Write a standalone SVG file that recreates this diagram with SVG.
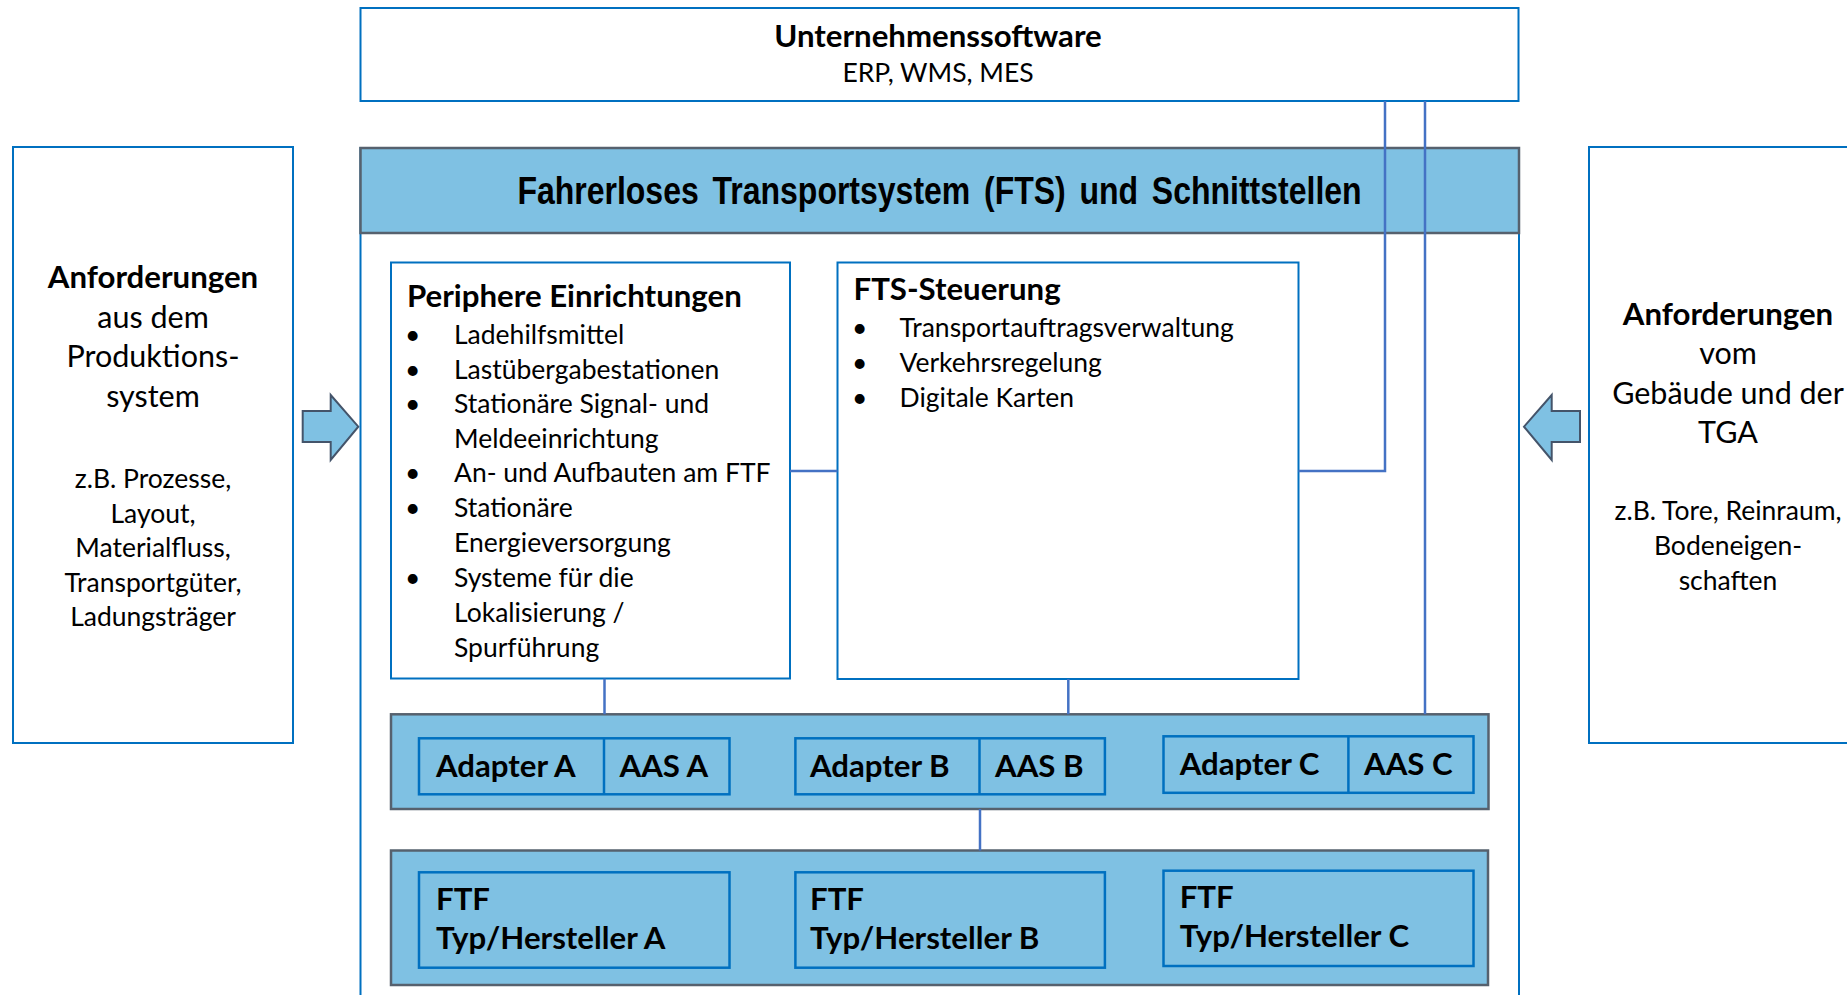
<svg xmlns="http://www.w3.org/2000/svg" width="1847" height="995" viewBox="0 0 1847 995">
<style>
.box{fill:#fff;stroke:#0070C0;stroke-width:2}
.band{fill:#7FC1E3;stroke:#56616E;stroke-width:2.5}
.inner{fill:#7FC1E3;stroke:#0070C0;stroke-width:2.5}
.conn{fill:none;stroke:#4472C4;stroke-width:2.5}
.arrow{fill:#7FC1E3;stroke:#44546A;stroke-width:2;stroke-linejoin:miter}
.t{font-family:Lato,"Liberation Sans",sans-serif;fill:#000}
.lg{font-size:30.5px}
.b{font-weight:700;font-size:31.2px}
.md{font-size:26.5px}
.c{text-anchor:middle}
.h{font-family:"Liberation Sans",Arial,sans-serif;font-weight:700;font-size:39.5px;fill:#000}
</style>
<rect width="1847" height="995" fill="#fff"/>

<g id="unternehmenssoftware">
<rect class="box" x="360.5" y="8" width="1158" height="93"/>
<text class="t b c" x="938" y="46.5">Unternehmenssoftware</text>
<text class="t md c" x="938" y="82">ERP, WMS, MES</text>
</g>

<g id="anforderungen-produktion">
<rect class="box" x="13" y="147" width="280" height="596"/>
<text class="t b c" x="153" y="288">Anforderungen</text>
<text class="t lg c" x="153" y="327.5">aus dem</text>
<text class="t lg c" x="153" y="367">Produktions-</text>
<text class="t lg c" x="153" y="406.5">system</text>
<text class="t md c" x="153" y="488">z.B. Prozesse,</text>
<text class="t md c" x="153" y="522.5">Layout,</text>
<text class="t md c" x="153" y="557">Materialfluss,</text>
<text class="t md c" x="153" y="591.5">Transportgüter,</text>
<text class="t md c" x="153" y="626">Ladungsträger</text>
</g>

<g id="anforderungen-gebaeude">
<rect class="box" x="1589" y="147" width="300" height="596"/>
<text class="t b c" x="1728" y="325">Anforderungen</text>
<text class="t lg c" x="1728" y="364">vom</text>
<text class="t lg c" x="1728" y="403.5">Gebäude und der</text>
<text class="t lg c" x="1728" y="443">TGA</text>
<text class="t md c" x="1728" y="520">z.B. Tore, Reinraum,</text>
<text class="t md c" x="1728" y="555">Bodeneigen-</text>
<text class="t md c" x="1728" y="590">schaften</text>
</g>

<g id="arrow-left">
<polygon class="arrow" points="302.7,411 330.7,411 330.7,395 358.3,426.7 330.7,460 330.7,442 302.7,442"/>
</g>
<g id="arrow-right">
<polygon class="arrow" points="1580,411 1551.7,411 1551.7,395 1524,426.7 1551.7,460 1551.7,442 1580,442"/>
</g>

<g id="fts">
<rect class="box" x="360.5" y="148" width="1158.5" height="900"/>
<rect class="band" x="360.5" y="148" width="1158.5" height="85"/>
<text class="h" transform="translate(939.5,204) scale(0.81,1)" text-anchor="middle" word-spacing="6">Fahrerloses Transportsystem (FTS) und Schnittstellen</text>
</g>

<g id="periphere">
<rect class="box" x="391" y="262.5" width="399" height="416"/>
<text class="t b" x="407" y="307">Periphere Einrichtungen</text>
<g class="t md">
<text x="405" y="344">•</text><text x="454" y="344">Ladehilfsmittel</text>
<text x="405" y="378.5">•</text><text x="454" y="378.5">Lastübergabestationen</text>
<text x="405" y="413.3">•</text><text x="454" y="413.3">Stationäre Signal- und</text>
<text x="454" y="447.5">Meldeeinrichtung</text>
<text x="405" y="482.3">•</text><text x="454" y="482.3">An- und Aufbauten am FTF</text>
<text x="405" y="517.3">•</text><text x="454" y="517.3">Stationäre</text>
<text x="454" y="551.7">Energieversorgung</text>
<text x="405" y="586.7">•</text><text x="454" y="586.7">Systeme für die</text>
<text x="454" y="621.7">Lokalisierung /</text>
<text x="454" y="656.7">Spurführung</text>
</g>
</g>

<g id="fts-steuerung">
<rect class="box" x="837.5" y="262.5" width="461" height="416.5"/>
<text class="t b" x="853.5" y="300">FTS-Steuerung</text>
<g class="t md">
<text x="852" y="337.3">•</text><text x="899.5" y="337.3">Transportauftragsverwaltung</text>
<text x="852" y="372.3">•</text><text x="899.5" y="372.3">Verkehrsregelung</text>
<text x="852" y="406.7">•</text><text x="899.5" y="406.7">Digitale Karten</text>
</g>
</g>

<g id="adapter-schicht">
<rect class="band" x="391" y="714.3" width="1097.5" height="94.7"/>
</g>
<g id="adapter-a">
<rect class="inner" x="419" y="738.3" width="310.5" height="56"/>
<line class="inner" x1="604" y1="738.3" x2="604" y2="794.3"/>
<text class="t b" x="436" y="776.5">Adapter A</text>
<text class="t b" x="619.5" y="776.5">AAS A</text>
</g>
<g id="adapter-b">
<rect class="inner" x="795.4" y="738.3" width="309.5" height="56"/>
<line class="inner" x1="979.5" y1="738.3" x2="979.5" y2="794.3"/>
<text class="t b" x="810" y="776.5">Adapter B</text>
<text class="t b" x="995" y="776.5">AAS B</text>
</g>
<g id="adapter-c">
<rect class="inner" x="1163.5" y="736.3" width="310" height="56.5"/>
<line class="inner" x1="1348.4" y1="736.3" x2="1348.4" y2="792.8"/>
<text class="t b" x="1179.7" y="775">Adapter C</text>
<text class="t b" x="1364" y="775">AAS C</text>
</g>

<g id="ftf-schicht">
<rect class="band" x="391" y="850.5" width="1097" height="134.5"/>
</g>
<g id="ftf-a">
<rect class="inner" x="419" y="872.3" width="310.5" height="95.4"/>
<text class="t b" x="436" y="910">FTF</text>
<text class="t b" x="436" y="949.3">Typ/Hersteller A</text>
</g>
<g id="ftf-b">
<rect class="inner" x="795.4" y="872.3" width="309.5" height="95.4"/>
<text class="t b" x="810" y="910">FTF</text>
<text class="t b" x="810" y="949.3">Typ/Hersteller B</text>
</g>
<g id="ftf-c">
<rect class="inner" x="1163.5" y="870.7" width="310" height="95.3"/>
<text class="t b" x="1179.7" y="908.3">FTF</text>
<text class="t b" x="1179.7" y="947.3">Typ/Hersteller C</text>
</g>

<g id="connectors">
<line class="conn" x1="790" y1="471" x2="837.5" y2="471"/>
<polyline class="conn" points="1298.5,471 1385,471 1385,101"/>
<line class="conn" x1="1425" y1="101" x2="1425" y2="714.3"/>
<line class="conn" x1="604.5" y1="678.5" x2="604.5" y2="714.3"/>
<line class="conn" x1="1068.3" y1="679" x2="1068.3" y2="714.3"/>
<line class="conn" x1="980" y1="809" x2="980" y2="850.5"/>
</g>
</svg>
